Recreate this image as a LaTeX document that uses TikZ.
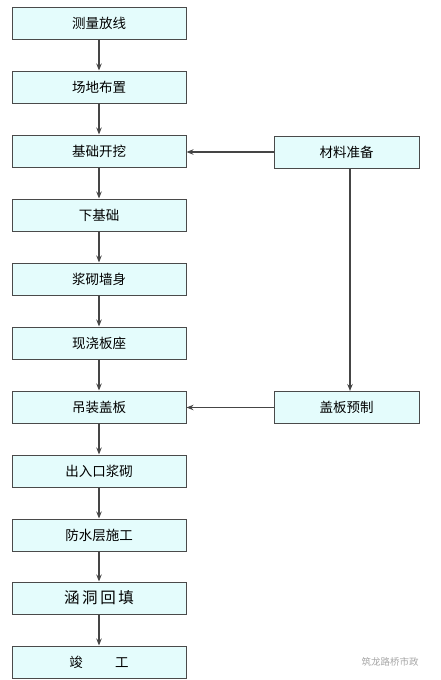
\documentclass[tikz,border=0pt]{standalone}
\usepackage{fontspec}
\setmainfont{Noto Sans CJK SC}
\usetikzlibrary{arrows.meta}
\definecolor{boxfill}{HTML}{E4FCFC}
\definecolor{boxline}{HTML}{4A4A4A}
\definecolor{arrline}{HTML}{454545}
\begin{document}
\begin{tikzpicture}[x=1pt,y=-1pt,
  stepbox/.style={draw=boxline,line width=1pt,fill=boxfill,minimum width=174pt,minimum height=32pt,inner sep=0pt,font=\fontsize{13.5}{15}\selectfont},
  sidebox/.style={stepbox,minimum width=145pt},
  flow/.style={draw=arrline,line width=1.2pt,-{Stealth[length=7pt,width=5.5pt]}}]
\useasboundingbox (0,0) rectangle (441,680);
\node[stepbox] (a1) at (99,23) {测量放线};
\node[stepbox] (a2) at (99,87) {场地布置};
\node[stepbox] (a3) at (99,151) {基础开挖};
\node[stepbox] (a4) at (99,215) {下基础};
\node[stepbox] (a5) at (99,279) {浆砌墙身};
\node[stepbox] (a6) at (99,343) {现浇板座};
\node[stepbox] (a7) at (99,407) {吊装盖板};
\node[stepbox] (a8) at (99,471) {出入口浆砌};
\node[stepbox] (a9) at (99,535) {防水层施工};
\node[stepbox,font=\fontsize{15.5}{17}\selectfont] (a10) at (99,598) {涵\,洞\,回\,填};
\node[stepbox] (a11) at (99,662) {竣\hspace{2.4em}工};
\node[sidebox] (b1) at (346.5,152) {材料准备};
\node[sidebox] (b2) at (346.5,407.5) {盖板预制};
\foreach \i/\j in {a1/a2,a2/a3,a3/a4,a4/a5,a5/a6,a6/a7,a7/a8,a8/a9,a9/a10,a10/a11}
  \draw[flow] (\i) -- (\j);
\draw[flow] (b1.west) -- (b1.west -| a3.east);
\draw[flow] (b2.west) -- (b2.west -| a7.east);
\draw[flow] (b1.south -| 350,0) -- (b2.north -| 350,0);
\node[text=gray!70,font=\fontsize{9.5}{10}\selectfont,anchor=west] (wm) at (358,662) {筑龙路桥市政};
\end{tikzpicture}
\end{document}
